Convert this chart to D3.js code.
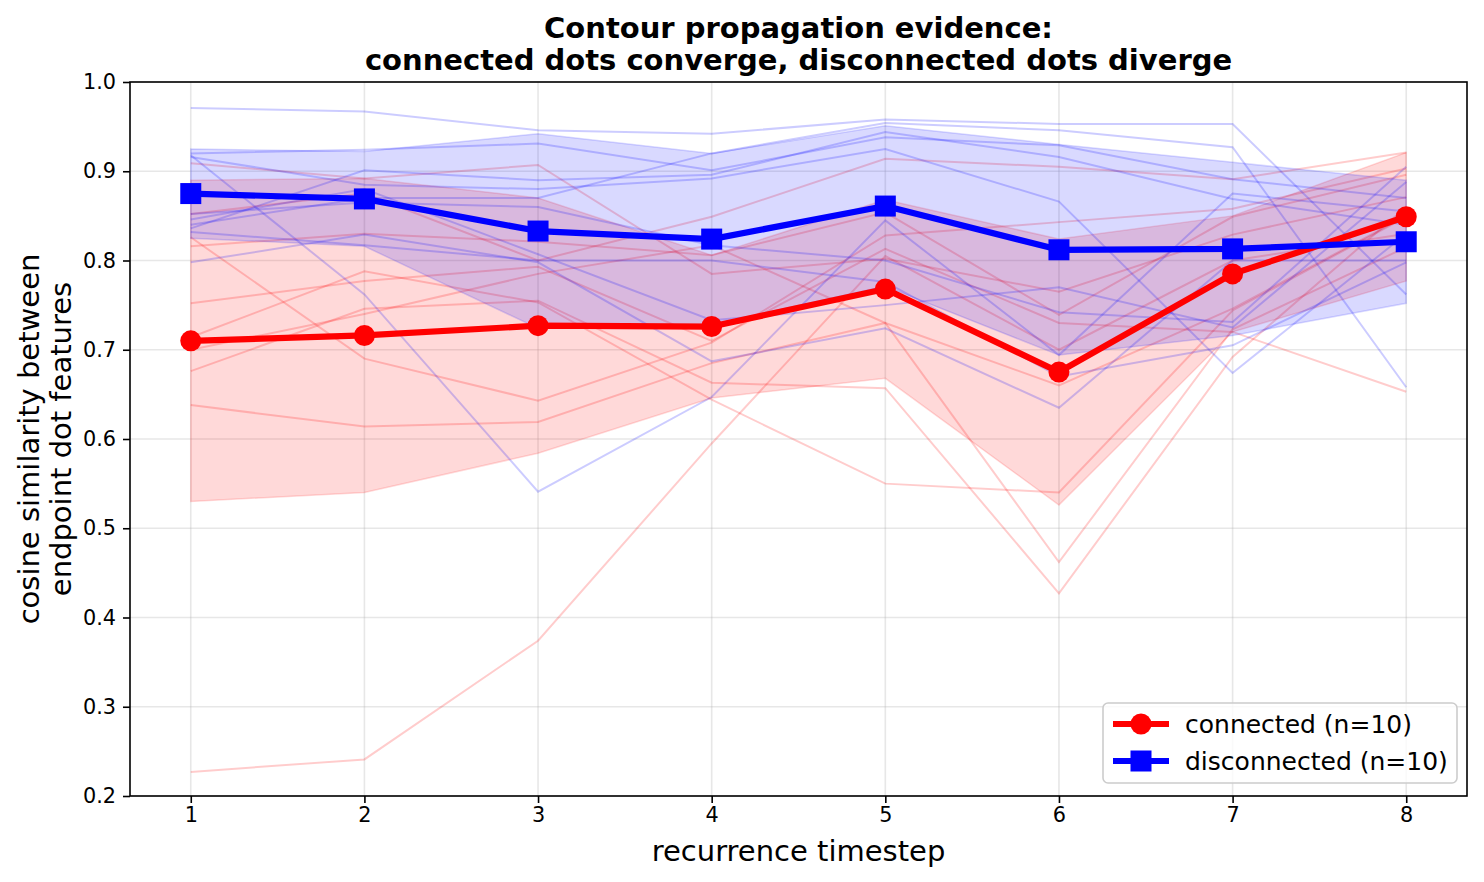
<!DOCTYPE html>
<html>
<head>
<meta charset="utf-8">
<script src="https://cdn.jsdelivr.net/npm/d3@7"></script>
<style>
  body { margin: 0; background: #fff; }
  text { font-family: "DejaVu Sans", sans-serif; }
</style>
</head>
<body>
<svg id="chart" width="1484" height="882"></svg>
<script>
// timesteps on the x axis
const timesteps = [1, 2, 3, 4, 5, 6, 7, 8];
const yTicks = [0.2, 0.3, 0.4, 0.5, 0.6, 0.7, 0.8, 0.9, 1.0];

// mean curves + spread (std)
const connectedMean = [0.710, 0.716, 0.727, 0.726, 0.768, 0.675, 0.785, 0.849];
const connectedStd = [0.180, 0.176, 0.143, 0.080, 0.100, 0.149, 0.065, 0.072];
const disconnectedMean = [0.875, 0.869, 0.833, 0.824, 0.861, 0.812, 0.813, 0.821];
const disconnectedStd = [0.050, 0.053, 0.109, 0.096, 0.090, 0.118, 0.097, 0.069];

// individual samples (n=10 each), faint lines
const connectedRuns = [
  [0.227, 0.241, 0.374, 0.595, 0.805, 0.700, 0.800, 0.830],
  [0.909, 0.892, 0.907, 0.785, 0.802, 0.765, 0.829, 0.871],
  [0.852, 0.875, 0.800, 0.849, 0.914, 0.905, 0.891, 0.921],
  [0.826, 0.690, 0.643, 0.708, 0.828, 0.843, 0.858, 0.903],
  [0.816, 0.830, 0.821, 0.806, 0.854, 0.739, 0.849, 0.896],
  [0.752, 0.777, 0.793, 0.710, 0.813, 0.730, 0.720, 0.653],
  [0.714, 0.788, 0.753, 0.644, 0.550, 0.540, 0.744, 0.849],
  [0.676, 0.746, 0.755, 0.663, 0.657, 0.427, 0.692, 0.860],
  [0.638, 0.614, 0.619, 0.685, 0.730, 0.462, 0.723, 0.815],
  [0.700, 0.740, 0.785, 0.817, 0.730, 0.660, 0.746, 0.850]
];
const disconnectedRuns = [
  [0.971, 0.967, 0.946, 0.942, 0.958, 0.953, 0.953, 0.762],
  [0.918, 0.762, 0.541, 0.647, 0.845, 0.694, 0.875, 0.855],
  [0.920, 0.924, 0.931, 0.901, 0.938, 0.929, 0.891, 0.870],
  [0.916, 0.885, 0.880, 0.892, 0.925, 0.866, 0.674, 0.830],
  [0.852, 0.865, 0.860, 0.817, 0.800, 0.742, 0.731, 0.905],
  [0.846, 0.880, 0.807, 0.733, 0.750, 0.770, 0.725, 0.888],
  [0.836, 0.901, 0.890, 0.896, 0.944, 0.916, 0.869, 0.840],
  [0.840, 0.870, 0.870, 0.920, 0.954, 0.946, 0.927, 0.658],
  [0.832, 0.817, 0.800, 0.800, 0.776, 0.670, 0.705, 0.798],
  [0.798, 0.829, 0.798, 0.687, 0.724, 0.635, 0.800, 0.800]
];

const plotLeft = 130, plotRight = 1467, plotTop = 82, plotBottom = 796;

const svg = d3.select("#chart");

const x = d3.scaleLinear().domain([0.65, 8.35]).range([plotLeft, plotRight]);
const y = d3.scaleLinear().domain([0.2, 1.0]).range([plotBottom, plotTop]);

// grid
const grid = svg.append("g");
grid.selectAll(".gx").data(timesteps).enter().append("line")
  .attr("x1", d => x(d)).attr("x2", d => x(d))
  .attr("y1", plotTop).attr("y2", plotBottom)
  .attr("stroke", "#b0b0b0").attr("stroke-opacity", 0.3).attr("stroke-width", 1.6);
grid.selectAll(".gy").data(yTicks).enter().append("line")
  .attr("x1", plotLeft).attr("x2", plotRight)
  .attr("y1", d => y(d)).attr("y2", d => y(d))
  .attr("stroke", "#b0b0b0").attr("stroke-opacity", 0.3).attr("stroke-width", 1.6);

const line = d3.line().x((d, i) => x(timesteps[i])).y(d => y(d));

function band(mean, std) {
  return d3.area()
    .x((d, i) => x(timesteps[i]))
    .y0((d, i) => y(mean[i] - std[i]))
    .y1((d, i) => y(mean[i] + std[i]))(mean);
}

const groups = [
  { mean: connectedMean, std: connectedStd, runs: connectedRuns, color: "#ff0000" },
  { mean: disconnectedMean, std: disconnectedStd, runs: disconnectedRuns, color: "#0000ff" }
];

// faint individual runs + shaded band
groups.forEach(g => {
  svg.append("g").selectAll("path").data(g.runs).enter().append("path")
    .attr("d", line)
    .attr("fill", "none")
    .attr("stroke", g.color)
    .attr("stroke-opacity", 0.2)
    .attr("stroke-width", 2);

  svg.append("path")
    .attr("d", band(g.mean, g.std))
    .attr("fill", g.color)
    .attr("fill-opacity", 0.15)
    .attr("stroke", g.color)
    .attr("stroke-opacity", 0.15)
    .attr("stroke-width", 1.5);
});

// mean lines with markers
groups.forEach((g, gi) => {
  svg.append("path")
    .attr("d", line(g.mean))
    .attr("fill", "none")
    .attr("stroke", g.color)
    .attr("stroke-width", 6.2)
    .attr("stroke-linejoin", "round");

  const m = svg.append("g").selectAll("g").data(g.mean).enter();
  if (gi === 0) {
    m.append("circle")
      .attr("cx", (d, i) => x(timesteps[i]))
      .attr("cy", d => y(d))
      .attr("r", 10.5)
      .attr("fill", g.color);
  } else {
    m.append("rect")
      .attr("x", (d, i) => x(timesteps[i]) - 10.5)
      .attr("y", d => y(d) - 10.5)
      .attr("width", 21).attr("height", 21)
      .attr("fill", g.color);
  }
});

// axes
const xAxis = d3.axisBottom(x).tickValues(timesteps).tickSize(7).tickPadding(4)
  .tickFormat(d3.format("d"));
const yAxis = d3.axisLeft(y).tickValues(yTicks).tickSize(7).tickPadding(7)
  .tickFormat(d3.format(".1f"));

const gx = svg.append("g").attr("transform", `translate(0,${plotBottom})`).call(xAxis);
const gy = svg.append("g").attr("transform", `translate(${plotLeft},0)`).call(yAxis);
[gx, gy].forEach(a => {
  a.select(".domain").remove();
  a.selectAll(".tick line").attr("stroke", "#000").attr("stroke-width", 1.6);
  a.selectAll(".tick text").attr("font-size", 20.8).attr("fill", "#000")
    .style("font-family", "DejaVu Sans");
});

// frame
svg.append("rect")
  .attr("x", plotLeft).attr("y", plotTop)
  .attr("width", plotRight - plotLeft).attr("height", plotBottom - plotTop)
  .attr("fill", "none").attr("stroke", "#000").attr("stroke-width", 1.6);

// title
const cx = (plotLeft + plotRight) / 2;
const title = svg.append("text")
  .attr("text-anchor", "middle")
  .attr("font-size", 29).attr("font-weight", "bold");
title.append("tspan").attr("x", cx).attr("y", 38)
  .text("Contour propagation evidence:");
title.append("tspan").attr("x", cx).attr("y", 70)
  .text("connected dots converge, disconnected dots diverge");

// axis labels
svg.append("text")
  .attr("x", cx).attr("y", 861)
  .attr("text-anchor", "middle").attr("font-size", 29)
  .text("recurrence timestep");

const yl = svg.append("text")
  .attr("transform", `translate(0,${(plotTop + plotBottom) / 2}) rotate(-90)`)
  .attr("text-anchor", "middle").attr("font-size", 29);
yl.append("tspan").attr("x", 0).attr("y", 39).text("cosine similarity between");
yl.append("tspan").attr("x", 0).attr("y", 71).text("endpoint dot features");

// legend
const lg = svg.append("g").attr("transform", "translate(1103,703)");
lg.append("rect")
  .attr("width", 354).attr("height", 80).attr("rx", 5)
  .attr("fill", "#fff").attr("fill-opacity", 0.8)
  .attr("stroke", "#cccccc").attr("stroke-width", 1.6);

const legendItems = [
  { label: "connected (n=10)", color: "#ff0000", shape: "circle" },
  { label: "disconnected (n=10)", color: "#0000ff", shape: "square" }
];
legendItems.forEach((it, i) => {
  const ry = 21 + i * 37;
  lg.append("line")
    .attr("x1", 10).attr("x2", 66).attr("y1", ry).attr("y2", ry)
    .attr("stroke", it.color).attr("stroke-width", 6.2);
  if (it.shape === "circle") {
    lg.append("circle").attr("cx", 38).attr("cy", ry).attr("r", 10.5).attr("fill", it.color);
  } else {
    lg.append("rect").attr("x", 27.5).attr("y", ry - 10.5)
      .attr("width", 21).attr("height", 21).attr("fill", it.color);
  }
  lg.append("text")
    .attr("x", 82).attr("y", ry + 9)
    .attr("font-size", 25)
    .text(it.label);
});
</script>
</body>
</html>
